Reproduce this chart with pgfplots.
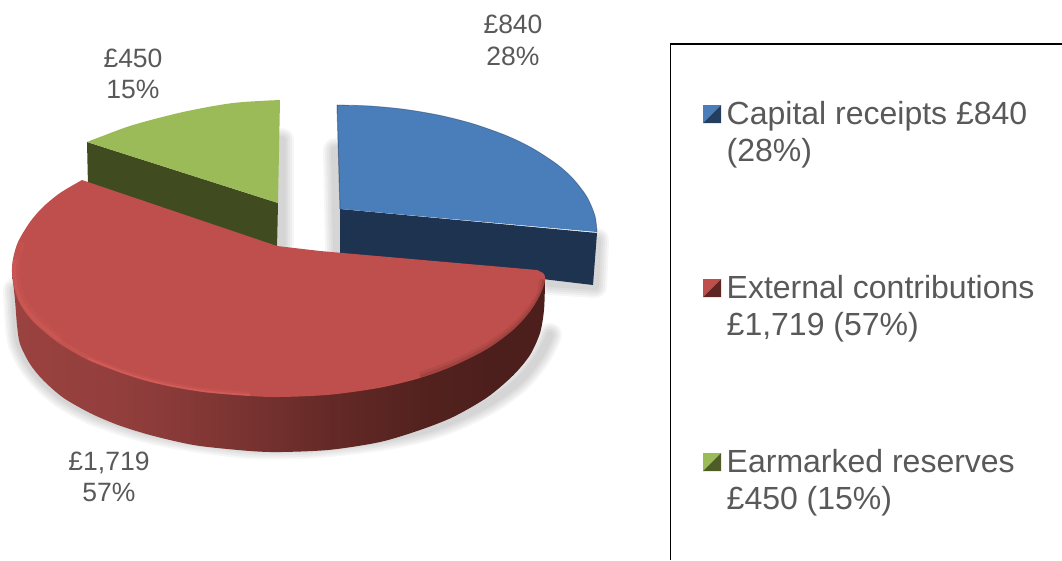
\documentclass[border=0pt]{standalone}
\usepackage{fontspec}
\setmainfont{Liberation Sans}
\usepackage{pgfplots}
\pgfplotsset{compat=1.18}
\definecolor{txt}{HTML}{595959}
\definecolor{blueT}{HTML}{4A7EBB}
\definecolor{blueS}{HTML}{1D3350}
\definecolor{greenT}{HTML}{9BBB59}
\definecolor{greenS}{HTML}{404B1F}
\definecolor{redT}{HTML}{BE4F4C}
\definecolor{redL}{HTML}{9A4240}
\definecolor{redD}{HTML}{4D1F1C}
\definecolor{redH}{HTML}{E86A66}
\colorlet{rA}{redL!92!redD}
\colorlet{rB}{redL!78!redD}
\colorlet{rC}{redL!56!redD}
\colorlet{rE}{redL!30!redD}
\colorlet{rF}{redL!8!redD}
\pgfdeclarehorizontalshading{redside}{100bp}{
  color(0bp)=(redL); color(25bp)=(redL); color(33.9bp)=(rA); color(40.1bp)=(rB);
  color(47.3bp)=(rC); color(54.8bp)=(rE); color(63.3bp)=(rF); color(69.6bp)=(redD); color(100bp)=(redD)}
\newcommand{\shadowstroke}[1]{%
 \addplot[smooth,draw=black,draw opacity=.035,line width=#1,line join=round,line cap=round] coordinates {(15,290)(17,325)(20,344)(30,364)(43,380)(63,397)(90,412)(117,422)(143,430)(170,436)(200,441)(250,447)(300,447)(330,445)(380,439)(420,431)(453,420)(490,402)(520,380)(540,355)(550,335)};
 \addplot[draw=black,draw opacity=.035,line width=#1,line join=round,line cap=round] coordinates {(282,140)(282,244)};
 \addplot[draw=black,draw opacity=.035,line width=#1,line join=round,line cap=round] coordinates {(335,150)(337,252)};
 \addplot[draw=black,draw opacity=.035,line width=#1,line join=round,line cap=round] coordinates {(597,240)(595,286)(550,283)};
}
\begin{document}
\begin{tikzpicture}
\begin{axis}[
  scale only axis,width=1062pt,height=560pt,
  xmin=0,xmax=1062,ymin=0,ymax=560,y dir=reverse,
  hide axis,clip=true]
% soft shadows
\shadowstroke{24pt}
\shadowstroke{20pt}
\shadowstroke{16pt}
\shadowstroke{12pt}
\shadowstroke{8pt}
% green slice (450)
\addplot[fill=greenS,draw=none] coordinates {(87,142)(88,186)(277,250)(278,203)};
\addplot[smooth,fill=greenT,draw=none] coordinates {(280,100)(233,103)(183,112)(133,125)(100,137)(87,142)} -- (axis cs:278,203) -- cycle;
% blue slice (840)
\addplot[fill=blueS,draw=none] coordinates {(340,209)(597,233)(593,285)(340,255)};
\addplot[smooth,fill=blueT,draw=none] coordinates {(337,105)(370,106)(405,109.4)(440,115.4)(473,123.8)(507,135.9)(533,148.6)(557,164.3)(573,178.7)(587,197)(595,216)(597,232)} -- (axis cs:340,209) -- cycle;
\addplot[smooth,draw=blueS,draw opacity=.4,line width=.8pt] coordinates {(337,105)(370,106)(405,109.4)(440,115.4)(473,123.8)(507,135.9)(533,148.6)(557,164.3)(573,178.7)(587,197)(595,216)(597,232)};
\addplot[draw=blueS,draw opacity=.45,line width=1pt] coordinates {(337,105)(340,209)};
% red slice side (1719)
\addplot[smooth,shading=redside,draw=none] coordinates {(12,272)(15,300)(17,325)(20,344)(30,364)(43,380)(63,397.5)(90,413)(117,424.6)(143,433)(170,440)(200,446)(250,451)(281,452)(330,449.8)(380,442)(420,430)(453,417)(487,397.5)(513,375.5)(530,355)(540,333)(544,310)(545,282)} -- cycle;
% red slice top
\addplot[smooth,fill=redT,draw=none] coordinates {(82,180)(60,193)(43,207)(30,222)(18,242)(13,259)(12,272)(14,287)(20,304)(33,321.5)(57,342)(87,359.5)(117,371.5)(143,380)(170,386.5)(207,392.5)(250,396)(280,397)(330,394.7)(380,387.7)(420,378)(453,366)(487,349)(513,330)(530,311.5)(540,295)(545,281)(544,274)(537,270)} -- (axis cs:320,251) -- (axis cs:277,246) -- cycle;
% bevel highlight and shade
\addplot[smooth,draw=redH,draw opacity=.14,line width=7pt,line join=round] coordinates {(22,242)(17,259)(16,272)(18,287)(24,302)(37,319)(60,339)};
\addplot[smooth,draw=redH,draw opacity=.18,line width=4pt,line join=round] coordinates {(15,259)(14,272)(16,287)(22,303)(35,320)(59,340)(88,357.5)(118,369.5)(144,378)(171,384.5)(207,390.5)(250,394)};
\addplot[smooth,draw=redH,draw opacity=.4,line width=1.6pt,line join=round] coordinates {(88,358.5)(118,370.5)(144,379)(171,385.5)(207,391.5)(250,395)};
\addplot[smooth,draw=redD,draw opacity=.1,line width=6pt,line join=round] coordinates {(420,375)(453,363)(487,346)(513,327)(530,308.5)(540,293)(542,279)};
\addplot[smooth,draw=redD,draw opacity=.14,line width=3pt,line join=round] coordinates {(420,376.5)(453,364.5)(487,347.5)(513,328.5)(530,310)(540,294)(544,280)};
% legend frame
\addplot[draw=black,line width=1.8pt] coordinates {(670.5,560)(670.5,44)(1062,44)};
% legend keys
\addplot[fill=blueT,draw=none] coordinates {(703,105)(721,105)(703,123)};
\addplot[fill=blueS!85!blueT,draw=none] coordinates {(721,105)(721,123)(703,123)};
\addplot[fill=redT,draw=none] coordinates {(703,279)(721,279)(703,297)};
\addplot[fill=redD!85!redT,draw=none] coordinates {(721,279)(721,297)(703,297)};
\addplot[fill=greenT,draw=none] coordinates {(703,453)(721,453)(703,471)};
\addplot[fill=greenS!85!greenT,draw=none] coordinates {(721,453)(721,471)(703,471)};
% legend text
\begin{scope}[every node/.style={anchor=base west,inner sep=0pt,text=txt,font=\fontsize{32}{36}\selectfont}]
\node at (axis cs:726.5,124) {Capital receipts £840};
\node at (axis cs:726.5,161) {(28\%)};
\node at (axis cs:726.5,298) {External contributions};
\node at (axis cs:726.5,335) {£1,719 (57\%)};
\node at (axis cs:726.5,472) {Earmarked reserves};
\node at (axis cs:726.5,509) {£450 (15\%)};
\end{scope}
% data labels
\begin{scope}[every node/.style={anchor=base,inner sep=0pt,text=txt,font=\fontsize{26.5}{31}\selectfont}]
\node at (axis cs:513,33.5) {£840};
\node at (axis cs:513,65) {28\%};
\node at (axis cs:133,67.5) {£450};
\node at (axis cs:133,98) {15\%};
\node at (axis cs:109,470.5) {£1,719};
\node at (axis cs:109,501) {57\%};
\end{scope}
\end{axis}
\pgfresetboundingbox
\path[use as bounding box] (current axis.south west) rectangle (current axis.north east);
\end{tikzpicture}
\end{document}
